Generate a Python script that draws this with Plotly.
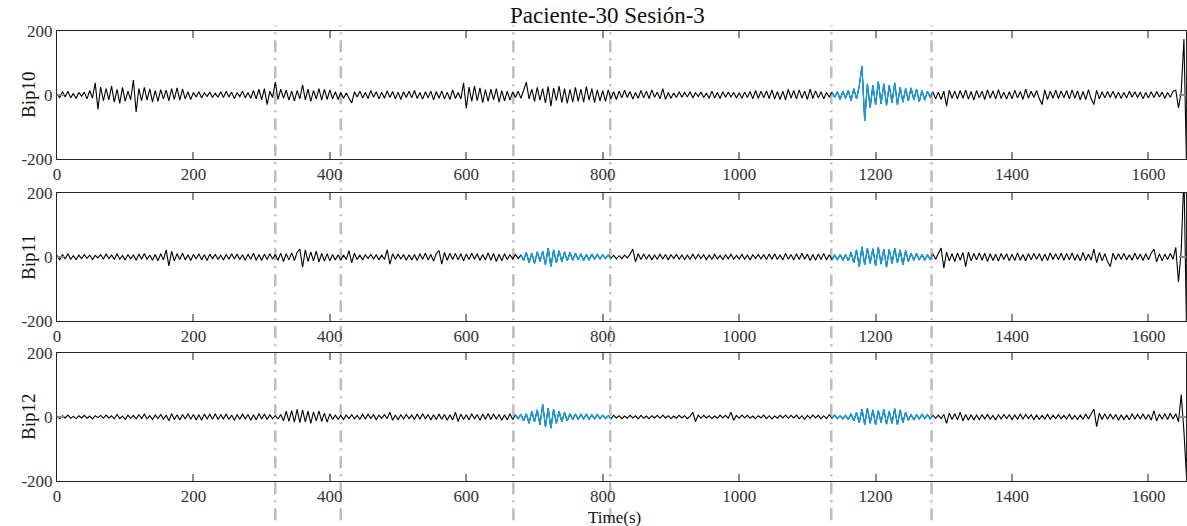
import numpy as np
import plotly.graph_objects as go

TITLE = "Paciente-30 Sesión-3"
X_TITLE = "Time(s)"
CHANNELS = ["Bip10", "Bip11", "Bip12"]
SAMPLE_STEP = 4  # seconds between samples
X_TICKS = [0, 200, 400, 600, 800, 1000, 1200, 1400, 1600]
Y_TICKS = [-200, 0, 200]
MARKERS = [320, 416, 669, 811, 1135, 1282]
BLUE_10 = [(1136, 1284)]
BLUE_11 = [(680, 812), (1136, 1284)]
BLUE_12 = [(672, 812), (1136, 1284)]

BIP10 = [
    3, -8, 10, -6, 12, -9, 5, -11, 8, -4,
    9, -12, 14, -10, 38, -44, 25, -18, 20, -15,
    28, -22, 18, -26, 24, -20, 12, -15, 47, -53,
    20, -18, 24, -16, 19, -22, 14, -20, 17, -12,
    15, -18, 20, -14, 22, -16, 18, -12, 10, -14,
    8, -6, 10, -9, 7, -5, 9, -8, 6, -7,
    10, -8, 12, -6, 9, -11, 7, -5, 12, -9,
    8, -10, 14, -12, 18, -15, 20, -30, 12, -8,
    40, -14, 18, -10, 15, -16, 12, -18, 14, -12,
    32, -15, 18, -20, 14, -12, 20, -16, 18, -14,
    16, -12, 10, -14, 8, -10, 6, -8, -25, 10,
    -6, 12, -9, 8, -11, 14, -7, 10, -12, 9,
    -10, 13, -8, 11, -12, 9, -14, 10, -8, 12,
    -9, 14, -11, 8, -13, 10, -9, 12, -15, 11,
    -10, 13, -12, 9, -14, 16, -11, 8, -12, 38,
    -42, 25, -20, 28, -18, 22, -24, 16, -20, 18,
    -15, 20, -22, 14, -18, 12, -16, 10, -8, 12,
    -10, 14, 40, -12, 18, -20, 24, -16, 20, -25,
    26, -35, 22, -18, 28, -24, 20, -26, 18, -22,
    24, -20, 18, -22, 26, -16, 20, -24, 16, -18,
    14, -20, 16, -12, 10, -14, 12, -9, 15, -8,
    11, -13, 8, -10, 14, -9, 12, -11, 16, -7,
    9, -12, 20, -14, 8, -10, 6, -8, 10, -7,
    8, -6, 10, -9, 7, -5, 9, -8, 6, -10,
    12, -9, 8, -11, 10, -7, 9, -6, 8, -9,
    7, -10, 9, -8, 11, -12, 14, -10, 12, -9,
    13, -11, 16, -12, 10, -14, 12, -15, 18, -10,
    14, -12, 16, -10, 12, -14, 18, -11, 13, -9,
    10, -12, 8, -6, 9, -7, 10, -14, 12, -10,
    15, -18, 20, -12, 28, 90, -80, 35, -40, 30,
    -30, 42, -28, 35, -32, 30, -25, 38, -30, 24,
    -22, 20, -18, 22, -15, 18, -20, 14, -16, 12,
    -8, 10, -12, 9, -14, 12, -35, 15, -10, 12,
    -12, 14, -10, 15, -13, 11, -16, 14, -9, 12,
    -14, 16, -10, 13, -12, 17, -11, 9, -13, 10,
    -12, 15, -9, 11, -14, 18, -10, 12, -8, 14,
    -12, -30, 16, -14, 12, -10, 15, -11, 13, -9,
    14, -12, 16, -10, 13, -15, 11, -14, 17, -12,
    -30, 15, -12, 10, -9, 11, -8, 12, -10, 9,
    -11, 8, -9, 12, -7, 10, -8, 9, -12, 8,
    -9, 10, -8, 11, -6, 9, -10, 8, -7, 12,
    15, -40, 10, 175, -250,
]

BIP11 = [
    5, -9, 8, -6, 10, -7, 4, -8, 6, -5,
    7, -4, 6, -8, 5, -3, 7, -6, 9, -5,
    6, -8, 10, -7, 5, -9, 8, -6, 7, -10,
    9, -7, 11, -8, 6, -10, 8, -12, 10, -9,
    22, -28, 18, -12, 10, -8, 12, -9, 7, -11,
    8, -6, 10, -9, 7, -11, 9, -5, 8, -7,
    6, -9, 8, -7, 10, -6, 9, -8, 7, -10,
    9, -7, 12, -10, 8, -11, 9, -8, 10, -6,
    8, -10, 12, -14, 10, -9, 13, -11, 15, 25,
    -32, 22, -14, 16, -12, 18, -15, 11, -13, 10,
    -12, 8, -9, 7, -10, 6, -8, 20, -18, 12,
    -8, 6, -9, 7, -5, 8, -6, 7, -9, 6,
    -8, 22, -22, 10, -7, 9, -6, 8, -10, 7,
    -9, 8, -11, 10, -7, 12, -9, 8, -13, 11,
    20, -22, 14, -10, 12, -8, 11, -9, 10, -12,
    9, -8, 12, -7, 10, -11, 8, -9, 13, -10,
    11, -14, 9, -12, 10, -8, 7, -6, 8, -5,
    6, -10, 14, -18, 12, -20, 16, -14, 18, -24,
    28, -30, 22, -18, 20, -15, 16, -12, 14, -10,
    12, -9, 10, -11, 8, -10, 9, -7, 8, -6,
    7, -5, 6, -4, 5, -6, 4, -5, 6, -3,
    8, 25, -15, 10, -8, 9, -6, 7, -8, 6,
    -7, 9, -6, 8, -9, 7, -5, 8, -7, 6,
    -8, 6, -7, 9, -6, 8, -5, 7, -8, 6,
    -7, 8, -6, 5, -8, 7, -6, 9, -7, 5,
    -6, 8, -7, 6, -9, 7, -5, 8, -6, 7,
    -8, 9, -7, 10, -8, 6, -9, 11, -7, 8,
    -9, 10, -8, 12, -7, 9, -11, 8, -10, 9,
    -8, 11, -9, 7, -8, 6, -9, 8, -10, 7,
    -12, 15, -18, 22, -30, 32, -25, 28, -20, 26,
    -28, 30, -22, 25, -32, 24, -20, 28, -18, 22,
    -25, 20, -14, 12, -10, 11, -9, 8, -10, 7,
    -8, 10, -7, 9, 28, -35, 15, -12, 10, -14,
    12, -10, 14, -30, 15, -12, 11, -9, 13, -10,
    12, -14, 10, -11, 9, -13, 11, -8, 10, -12,
    9, -11, 13, -10, 8, -12, 10, -9, 11, -7,
    10, -12, 9, -11, 13, -8, 10, -9, 12, -10,
    11, -9, 13, -10, 8, -12, 14, -11, 9, -10,
    25, -18, 14, -12, 10, -14, -30, 12, -9, 10,
    -8, 11, -9, 7, -10, 12, -8, 9, -11, 10,
    -9, 12, 25, -15, 10, -12, 9, -8, 11, -7,
    30, -78, 20, 260, -260,
]

BIP12 = [
    3, -5, 4, -3, 6, -4, 2, -5, 4, -3,
    5, -4, 3, -6, 4, -2, 5, -4, 6, -3,
    4, -6, 8, -5, 3, -7, 6, -4, 5, -6,
    7, -5, 9, -6, 4, -8, 6, -5, 8, -7,
    6, -12, 10, -8, 7, -9, 8, -6, 10, -7,
    8, -9, 7, -10, 9, -6, 8, -7, 10, -8,
    7, -6, 9, -8, 6, -10, 8, -7, 9, -6,
    8, -10, 7, -9, 10, -6, 9, -8, 7, -5,
    4, -6, 8, -12, 18, -14, 20, -16, 24, -18,
    22, -15, 18, -20, 16, -12, 19, -14, 12, -16,
    10, -8, 6, -7, 5, -8, 6, -5, 7, -6,
    5, -7, 8, -6, 9, -5, 7, -8, 6, -4,
    7, -5, 15, -10, 6, -8, 7, -6, 8, -5,
    6, -8, 9, -7, 10, -6, 8, -9, 7, -8,
    9, -7, 8, -10, 7, -9, 15, -14, 9, -8,
    7, -9, 10, -6, 8, -10, 9, -7, 11, -8,
    9, -6, 8, -10, 7, -9, 10, -8, 6, -5,
    8, -12, 10, -20, 18, -15, 22, -25, 40, -30,
    28, -35, 24, -20, 18, -15, 14, -12, 10, -8,
    9, -7, 8, -6, 9, -8, 7, -6, 8, -5,
    6, -5, 4, -6, 5, -3, 4, -5, 3, -4,
    5, -3, 4, -6, 5, -4, 3, -5, 4, -3,
    5, -4, 6, -3, 4, -5, 3, -4, 5, -3,
    4, -5, 3, 15, -14, 6, -4, 5, -3, 4,
    -5, 3, -4, 6, -3, 5, -4, 15, -10, 5,
    -4, 6, -3, 5, -4, 3, -5, 4, -3, 6,
    -5, 4, -6, 3, -4, 5, -3, 6, -4, 5,
    -3, 6, -5, 4, -7, 5, -4, 6, -3, 5,
    -6, 4, -5, 7, -4, 6, -5, 4, -6, 5,
    -8, 10, -12, 14, -18, 25, -24, 28, -20, 22,
    -25, 20, -18, 24, -22, 18, -20, 26, -25, 22,
    -18, 15, -10, 8, -9, 7, -6, 8, -5, 7,
    -6, 5, -4, 6, -5, 8, -20, 12, -8, 10,
    -9, 15, -12, 8, -10, 7, -9, 6, -8, 7,
    -6, 8, -7, 5, -9, 7, -6, 8, -5, 7,
    -8, 6, -7, 9, -6, 8, -5, 7, -8, 6,
    -7, 5, -6, 8, -7, 6, -5, 7, -6, 5,
    -6, 8, -7, 5, -8, 6, -7, 9, -6, 8,
    25, -30, 12, -8, 10, -7, 9, -6, 8, -10,
    7, -8, 6, -9, 10, -7, 8, -6, 9, -7,
    8, -10, 20, -12, 9, -7, 10, -8, 12, -6,
    10, -15, 70, -45, -200,
]

SIGNALS = [BIP10, BIP11, BIP12]
BLUES = [BLUE_10, BLUE_11, BLUE_12]

BLACK = "#000000"
BLUE = "#109fe2"
GRID_GRAY = "#bdbdbd"
AXIS_COLOR = "#262626"
FONT = "Liberation Serif"

W, H = 1187, 526
ML, MR, MT, MB = 57, 1, 31, 45
PH = H - MT - MB
panel_px = [(31, 159), (193, 321), (353, 481)]  # top, bottom in page pixels
domains = [[(H - MB - b) / PH, (H - MB - t) / PH] for t, b in panel_px]

fig = go.Figure()

for i, (sig, blues) in enumerate(zip(SIGNALS, BLUES)):
    y = np.array(sig, dtype=float)
    t = np.arange(len(y)) * SAMPLE_STEP
    xa = "x" if i == 0 else f"x{i+1}"
    ya = "y" if i == 0 else f"y{i+1}"
    fig.add_trace(go.Scatter(x=t, y=y, mode="lines", line=dict(color=BLACK, width=1.1),
                             xaxis=xa, yaxis=ya, showlegend=False, hoverinfo="skip"))
    yb = np.full_like(y, np.nan)
    for a, b in blues:
        m = (t >= a) & (t <= b)
        yb[m] = y[m]
    fig.add_trace(go.Scatter(x=t, y=yb, mode="lines", line=dict(color=BLUE, width=1.3),
                             connectgaps=False, xaxis=xa, yaxis=ya, showlegend=False,
                             hoverinfo="skip"))

axis_common = dict(showline=True, linecolor=AXIS_COLOR, linewidth=1, mirror="ticks",
                   ticks="inside", ticklen=7, tickwidth=1.5, tickcolor="#8c8c8c",
                   showgrid=False, zeroline=False,
                   tickfont=dict(family=FONT, size=17, color="#333333"))

layout = dict(width=W, height=H, margin=dict(l=ML, r=MR, t=MT, b=MB),
              paper_bgcolor="white", plot_bgcolor="white", showlegend=False)
for i in range(3):
    xk = "xaxis" if i == 0 else f"xaxis{i+1}"
    yk = "yaxis" if i == 0 else f"yaxis{i+1}"
    ya = "y" if i == 0 else f"y{i+1}"
    xa = "x" if i == 0 else f"x{i+1}"
    layout[xk] = dict(axis_common, domain=[0, 1], anchor=ya, range=[0, 1655],
                      tickvals=X_TICKS, ticktext=[str(v) for v in X_TICKS])
    layout[yk] = dict(axis_common, domain=domains[i], anchor=xa, range=[-200, 200],
                      tickvals=Y_TICKS, ticktext=[str(v) for v in Y_TICKS])
fig.update_layout(**layout)

shapes = []
for m in MARKERS:
    shapes.append(dict(type="line", xref="x", yref="paper", x0=m, x1=m,
                       y0=-0.087, y1=1.013, layer="below",
                       line=dict(color=GRID_GRAY, width=2.5, dash="12px,6px,2px,6px")))
fig.update_layout(shapes=shapes)

ann = [dict(text=TITLE, xref="paper", yref="paper", x=0.488, y=1 + 15 / PH,
            showarrow=False, xanchor="center", yanchor="middle",
            font=dict(family=FONT, size=23, color="#111111")),
       dict(text=X_TITLE, xref="paper", yref="paper", x=0.494, y=-36 / PH,
            showarrow=False, xanchor="center", yanchor="middle",
            font=dict(family=FONT, size=17, color="#111111"))]
for i, name in enumerate(CHANNELS):
    ann.append(dict(text=name, xref="paper", yref="paper", x=-29 / (W - ML - MR),
                    y=(domains[i][0] + domains[i][1]) / 2, textangle=-90,
                    showarrow=False, xanchor="center", yanchor="middle",
                    font=dict(family=FONT, size=19, color="#111111")))
fig.update_layout(annotations=ann)

fig.write_html("out.html")
